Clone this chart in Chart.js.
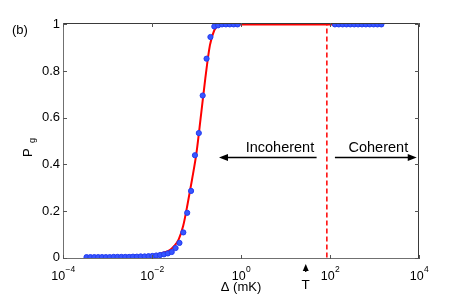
<!DOCTYPE html>
<html>
<head>
<meta charset="utf-8">
<script src="https://cdn.jsdelivr.net/npm/chart.js@4"></script>
<style>
  body { margin: 0; background: #fff; }
  #wrap { width: 463px; height: 298px; }
</style>
</head>
<body>
<div id="wrap"><canvas id="pgChart" width="463" height="298"></canvas></div>
<script>
// measured points, delta in mK
const deltaLow = [3.38e-4, 4.13e-4, 5.05e-4, 6.17e-4, 7.53e-4, 9.20e-4, 1.125e-3, 1.374e-3,
  1.679e-3, 2.051e-3, 2.506e-3, 3.062e-3, 3.741e-3, 4.571e-3, 5.585e-3, 6.823e-3, 8.337e-3,
  1.019e-2, 1.245e-2, 1.521e-2, 1.858e-2, 2.270e-2, 2.773e-2, 3.388e-2, 4.140e-2, 5.058e-2,
  6.180e-2, 7.551e-2, 9.226e-2, 0.1127, 0.1377, 0.1683, 0.2056, 0.2512, 0.3069, 0.3750,
  0.4581, 0.5598, 0.6839, 0.8356];
const pgLow = [0.002, 0.002, 0.002, 0.002, 0.002, 0.002, 0.002, 0.003, 0.003, 0.003, 0.003,
  0.003, 0.004, 0.004, 0.005, 0.005, 0.006, 0.007, 0.009, 0.011, 0.014, 0.018, 0.024, 0.041,
  0.063, 0.108, 0.192, 0.286, 0.439, 0.534, 0.695, 0.853, 0.946, 0.991, 0.996, 1, 1, 1, 1, 1];
const deltaHigh = [128.8, 157.4, 192.3, 235.0, 287.1, 350.8, 428.5, 523.6, 639.7, 781.6,
  955.0, 1166.8, 1425.6];
const pgHigh = [1, 1, 1, 1, 1, 1, 1, 1, 1, 1, 1, 1, 1];

// fitted curve
const fitDelta = [3.47e-4, 1e-3, 3.16e-3, 6.31e-3, 0.01, 0.0126, 0.0158, 0.02, 0.0251, 0.0316,
  0.0398, 0.0501, 0.0631, 0.0794, 0.1, 0.126, 0.158, 0.2, 0.251, 0.316, 0.398, 1426];
const fitPg = [0.001, 0.001, 0.003, 0.005, 0.009, 0.013, 0.018, 0.024, 0.032, 0.05, 0.078,
  0.135, 0.23, 0.335, 0.45, 0.61, 0.77, 0.91, 0.975, 0.995, 1, 1];

// crossover (dashed line) and temperature mark
const crossover = 85;
const tempT = 28.5;

const xTickExps = [-4, -2, 0, 2, 4];
const yTicks = [0, 0.2, 0.4, 0.6, 0.8, 1];
const yTickLabels = ['0', '0.2', '0.4', '0.6', '0.8', '1'];

const FONT = '"Liberation Sans", Arial, Helvetica, sans-serif';

function pts(xs, ys) {
  return xs.map((x, i) => ({ x: x, y: ys[i] }));
}

function arrowHead(ctx, x, y, dir) {
  // dir: 'l', 'r', 'u'
  ctx.beginPath();
  if (dir === 'l') { ctx.moveTo(x, y); ctx.lineTo(x + 9, y - 3.5); ctx.lineTo(x + 9, y + 3.5); }
  if (dir === 'r') { ctx.moveTo(x, y); ctx.lineTo(x - 9, y - 3.5); ctx.lineTo(x - 9, y + 3.5); }
  if (dir === 'u') { ctx.moveTo(x, y); ctx.lineTo(x - 3, y + 7); ctx.lineTo(x + 3, y + 7); }
  ctx.closePath();
  ctx.fill();
}

const decor = {
  id: 'decor',
  afterDraw(chart) {
    const ctx = chart.ctx;
    const a = chart.chartArea;
    const xs = chart.scales.x, ys = chart.scales.y;
    ctx.save();

    // box + inward ticks
    ctx.lineWidth = 1;
    ctx.strokeStyle = '#3a3a3a';
    ctx.beginPath();
    ctx.moveTo(a.left, a.top + 0.5); ctx.lineTo(a.right - 0.5, a.top + 0.5); ctx.lineTo(a.right - 0.5, a.bottom);
    ctx.stroke();
    ctx.strokeStyle = '#707070';
    ctx.beginPath();
    ctx.moveTo(a.left + 0.5, a.top); ctx.lineTo(a.left + 0.5, a.bottom - 0.5); ctx.lineTo(a.right, a.bottom - 0.5);
    ctx.stroke();
    ctx.strokeStyle = '#555';
    ctx.beginPath();
    yTicks.forEach(v => {
      const py = Math.round(ys.getPixelForValue(v)) + 0.5;
      ctx.moveTo(a.left, py); ctx.lineTo(a.left + 4, py);
      ctx.moveTo(a.right, py); ctx.lineTo(a.right - 4, py);
    });
    xTickExps.forEach(e => {
      const px = Math.round(xs.getPixelForValue(Math.pow(10, e))) + 0.5;
      ctx.moveTo(px, a.bottom); ctx.lineTo(px, a.bottom - 4);
      ctx.moveTo(px, a.top); ctx.lineTo(px, a.top + 4);
    });
    ctx.stroke();

    ctx.fillStyle = '#000';
    // y tick labels
    ctx.font = '13px ' + FONT;
    ctx.textAlign = 'right';
    ctx.textBaseline = 'middle';
    yTicks.forEach((v, i) => {
      ctx.fillText(yTickLabels[i], a.left - 3, ys.getPixelForValue(v));
    });

    // x tick labels 10^n
    ctx.textAlign = 'left';
    ctx.textBaseline = 'alphabetic';
    xTickExps.forEach(e => {
      const px = xs.getPixelForValue(Math.pow(10, e));
      ctx.font = '12.5px ' + FONT;
      const w10 = ctx.measureText('10').width;
      ctx.font = '8.5px ' + FONT;
      const expStr = e < 0 ? '\u2212' + Math.abs(e) : String(e);
      const wE = ctx.measureText(expStr).width;
      const x0 = px - (w10 + wE) / 2;
      ctx.font = '12.5px ' + FONT;
      ctx.fillText('10', x0, 279.5);
      ctx.font = '8.5px ' + FONT;
      ctx.fillText(expStr, x0 + w10 + 0.5, 272);
    });

    // axis titles
    ctx.font = '13px ' + FONT;
    ctx.textAlign = 'center';
    ctx.fillText('\u0394 (mK)', (a.left + a.right) / 2, 291);
    ctx.textAlign = 'left';
    ctx.fillText('(b)', 12, 34);

    ctx.save();
    ctx.translate(32, 157);
    ctx.rotate(-Math.PI / 2);
    ctx.font = '13px ' + FONT;
    ctx.fillText('P', 0, 0);
    ctx.font = '9px ' + FONT;
    ctx.fillText('g', 14, 3);
    ctx.restore();

    // Incoherent / Coherent arrows
    const yArrow = ys.getPixelForValue(0.429);
    const yText = ys.getPixelForValue(0.47);
    ctx.strokeStyle = '#000';
    ctx.lineWidth = 1.5;
    const inc0 = xs.getPixelForValue(50), inc1 = xs.getPixelForValue(0.32);
    ctx.beginPath(); ctx.moveTo(inc0, yArrow); ctx.lineTo(inc1 + 6, yArrow); ctx.stroke();
    arrowHead(ctx, inc1, yArrow, 'l');
    const coh0 = xs.getPixelForValue(129), coh1 = xs.getPixelForValue(8900);
    ctx.beginPath(); ctx.moveTo(coh0, yArrow); ctx.lineTo(coh1 - 6, yArrow); ctx.stroke();
    arrowHead(ctx, coh1, yArrow, 'r');

    ctx.font = '14.5px ' + FONT;
    ctx.textAlign = 'center';
    ctx.textBaseline = 'middle';
    ctx.fillText('Incoherent', xs.getPixelForValue(7.5), yText);
    ctx.fillText('Coherent', xs.getPixelForValue(1220), yText);

    // T marker below the axis
    const tx = xs.getPixelForValue(tempT);
    ctx.lineWidth = 1.3;
    ctx.beginPath(); ctx.moveTo(tx, 272); ctx.lineTo(tx, 268); ctx.stroke();
    arrowHead(ctx, tx, 264, 'u');
    ctx.font = '13.5px ' + FONT;
    ctx.textBaseline = 'alphabetic';
    ctx.fillText('T', tx, 289);

    ctx.restore();
  }
};

new Chart(document.getElementById('pgChart'), {
  type: 'scatter',
  data: {
    datasets: [
      {
        label: 'data',
        data: pts(deltaLow.concat(deltaHigh), pgLow.concat(pgHigh)),
        showLine: false,
        pointRadius: 2.6,
        pointBackgroundColor: 'rgb(55, 85, 255)',
        pointBorderColor: 'rgb(35, 60, 240)',
        pointBorderWidth: 1,
        order: 0
      },
      {
        label: 'fit',
        data: pts(fitDelta, fitPg),
        showLine: true,
        borderColor: '#ff0000',
        borderWidth: 2,
        pointRadius: 0,
        cubicInterpolationMode: 'monotone',
        order: 1
      },
      {
        label: 'crossover',
        data: [{ x: crossover, y: 0 }, { x: crossover, y: 1 }],
        showLine: true,
        borderColor: '#ff0000',
        borderWidth: 1.5,
        borderDash: [5, 3],
        pointRadius: 0,
        order: 2
      }
    ]
  },
  options: {
    responsive: false,
    animation: false,
    layout: { padding: { left: 63, right: 44, top: 23, bottom: 39 } },
    plugins: { legend: { display: false }, tooltip: { enabled: false } },
    scales: {
      x: { type: 'logarithmic', min: 1e-4, max: 1e4, display: false },
      y: { type: 'linear', min: -0.006, max: 1.006, display: false }
    }
  },
  plugins: [decor]
});
</script>
</body>
</html>
